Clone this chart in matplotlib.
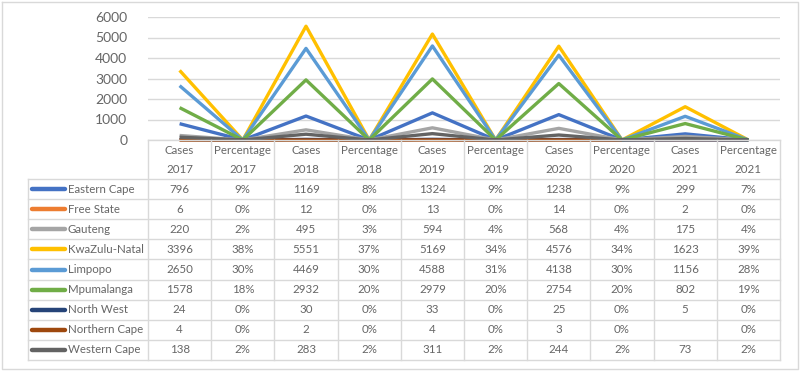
import numpy as np
import matplotlib.pyplot as plt

plt.rcParams['font.family'] = ['Lato', 'DejaVu Sans']

W, H = 800, 371

regions = ['Eastern Cape', 'Free State', 'Gauteng', 'KwaZulu-Natal', 'Limpopo',
           'Mpumalanga', 'North West', 'Northern Cape', 'Western Cape']
colors = ['#4472C4', '#ED7D31', '#A5A5A5', '#FFC000', '#5B9BD5',
          '#70AD47', '#264478', '#9E480E', '#636363']
years = [2017, 2018, 2019, 2020, 2021]
categories = []
for y in years:
    categories += [('Cases', str(y)), ('Percentage', str(y))]

# cases per year (None = blank cell)
cases = {
    'Eastern Cape':  [796, 1169, 1324, 1238, 299],
    'Free State':    [6, 12, 13, 14, 2],
    'Gauteng':       [220, 495, 594, 568, 175],
    'KwaZulu-Natal': [3396, 5551, 5169, 4576, 1623],
    'Limpopo':       [2650, 4469, 4588, 4138, 1156],
    'Mpumalanga':    [1578, 2932, 2979, 2754, 802],
    'North West':    [24, 30, 33, 25, 5],
    'Northern Cape': [4, 2, 4, 3, None],
    'Western Cape':  [138, 283, 311, 244, 73],
}
# share per year, in percent
percent = {
    'Eastern Cape':  [9, 8, 9, 9, 7],
    'Free State':    [0, 0, 0, 0, 0],
    'Gauteng':       [2, 3, 4, 4, 4],
    'KwaZulu-Natal': [38, 37, 34, 34, 39],
    'Limpopo':       [30, 30, 31, 30, 28],
    'Mpumalanga':    [18, 20, 20, 20, 19],
    'North West':    [0, 0, 0, 0, 0],
    'Northern Cape': [0, 0, 0, 0, 0],
    'Western Cape':  [2, 2, 2, 2, 2],
}
yticks = [0, 1000, 2000, 3000, 4000, 5000, 6000]

txt = '#666666'
grid = '#D9D9D9'
fs = 8.3

fig = plt.figure(figsize=(W / 100, H / 100), dpi=100)

# pixel geometry
x0, x1 = 148, 780
y_top, y_zero = 17, 140
leg_x = 28
row_top = 179
row_h = (360 - 179) / 9

ax = fig.add_axes([x0 / W, 1 - y_zero / H, (x1 - x0) / W, (y_zero - y_top) / H])
ax.set_xlim(-0.5, len(categories) - 0.5)
ax.set_ylim(0, 6000)
ax.set_yticks(yticks)
ax.set_yticklabels([str(v) for v in yticks], fontsize=10, color=txt)
ax.tick_params(axis='y', length=0, pad=15)
ax.set_xticks([])
for s in ax.spines.values():
    s.set_visible(False)
ax.grid(axis='y', color=grid, linewidth=1)
ax.set_axisbelow(True)

xs = np.arange(len(categories))
for name, c in zip(regions, colors):
    vals = []
    for cv, pv in zip(cases[name], percent[name]):
        vals.append(np.nan if cv is None else cv)
        vals.append(pv / 100)
    ax.plot(xs, vals, color=c, linewidth=2.4, solid_capstyle='butt', clip_on=False)

# overlay for the data table
ov = fig.add_axes([0, 0, 1, 1])
ov.set_xlim(0, W)
ov.set_ylim(H, 0)
ov.axis('off')

col_w = (x1 - x0) / len(categories)
bottom = row_top + row_h * len(regions)
lc = '#D9D9D9'

# border of the whole chart
ov.plot([1.5, 797.5, 797.5, 1.5, 1.5], [1.5, 1.5, 368.5, 368.5, 1.5], color=lc, lw=1)

# horizontal table lines
ov.plot([x0, x1], [y_zero, y_zero], color=lc, lw=1)
for i in range(len(regions) + 1):
    yy = row_top + i * row_h
    ov.plot([leg_x, x1], [yy, yy], color=lc, lw=1)
# vertical table lines
ov.plot([leg_x, leg_x], [row_top, bottom], color=lc, lw=1)
for j in range(len(categories) + 1):
    xx = x0 + j * col_w
    ov.plot([xx, xx], [y_zero, bottom], color=lc, lw=1)

# header
for j, (a, b) in enumerate(categories):
    cx = x0 + (j + 0.5) * col_w
    ov.text(cx, 150.5, a, ha='center', va='center', fontsize=fs, color=txt)
    ov.text(cx, 169.5, b, ha='center', va='center', fontsize=fs, color=txt)

# rows
for i, (name, c) in enumerate(zip(regions, colors)):
    cy = row_top + (i + 0.5) * row_h
    ov.plot([32, 65], [cy, cy], color=c, lw=3.2, solid_capstyle='round')
    ov.text(68, cy, name, ha='left', va='center', fontsize=fs, color=txt)
    for k in range(len(years)):
        cv = cases[name][k]
        if cv is not None:
            ov.text(x0 + (2 * k + 0.5) * col_w, cy, str(cv), ha='center', va='center',
                    fontsize=fs, color=txt)
        ov.text(x0 + (2 * k + 1.5) * col_w, cy, f'{percent[name][k]}%', ha='center',
                va='center', fontsize=fs, color=txt)

fig.savefig('out.png', dpi=100)
